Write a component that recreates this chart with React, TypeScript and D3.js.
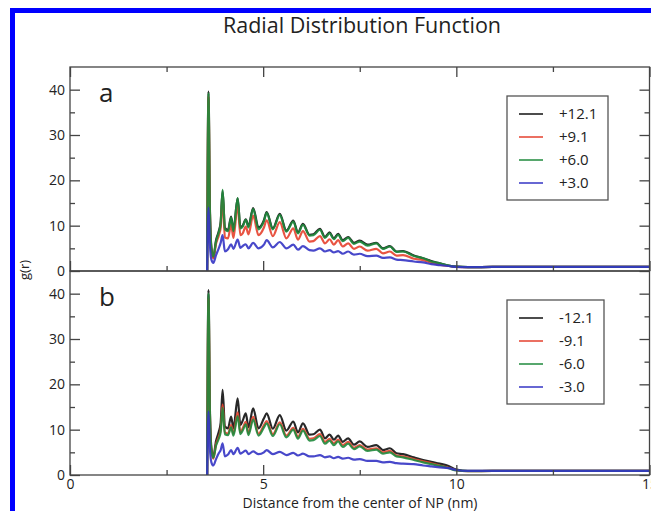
import { useEffect, useRef } from 'react';
import * as d3 from 'd3';

// Distance grid (nm) shared by every curve
const rGrid = [
  3.55, 3.585, 3.62, 3.66, 3.71, 3.78, 3.85, 3.9, 3.95, 4.01, 4.09, 4.17, 4.23, 4.34, 4.41,
  4.47, 4.55, 4.62, 4.74, 4.88, 5.02, 5.09, 5.25, 5.43, 5.6, 5.78, 5.9, 6.03, 6.2, 6.3,
  6.47, 6.6, 6.72, 6.83, 6.94, 7.06, 7.2, 7.35, 7.5, 7.7, 7.93, 8.1, 8.28, 8.45, 8.62,
  8.9, 9.14, 9.35, 9.57, 9.8, 10.0, 10.3, 11, 12, 13, 14, 15,
];

// Panel a (positive charges)
const gPos121 = [
  0, 39.6, 14.5, 5.2, 3.0, 6.8, 8.7, 10.8, 17.6, 9.5, 9.0, 12.0, 9.0, 16.0, 9.7,
  10.0, 11.4, 9.9, 13.9, 9.6, 11.2, 13.0, 9.4, 12.6, 8.9, 11.1, 8.5, 10.4, 8.0, 8.1,
  9.3, 7.5, 8.5, 7.2, 8.2, 6.8, 7.5, 6.2, 6.7, 5.8, 6.2, 5.0, 5.5, 4.3, 4.4,
  3.4, 2.8, 2.2, 1.7, 1.2, 0.95, 0.85, 0.9, 0.9, 0.9, 0.9, 0.9,
];
const gPos91 = [
  0, 38.5, 13.5, 4.6, 2.8, 6.0, 7.8, 9.5, 16.2, 7.4, 7.2, 10.3, 7.3, 14.5, 7.9,
  8.3, 9.8, 8.1, 12.2, 7.9, 9.6, 11.2, 7.7, 10.8, 7.2, 9.4, 6.9, 8.8, 6.5, 6.6,
  7.7, 6.1, 7.0, 5.8, 6.8, 5.4, 6.1, 4.9, 5.4, 4.5, 4.9, 3.9, 4.3, 3.4, 3.5,
  2.7, 2.4, 1.8, 1.4, 1.1, 0.9, 0.85, 0.9, 0.9, 0.9, 0.9, 0.9,
];
const gPos60 = [
  0, 39.2, 14.0, 5.0, 3.2, 6.5, 8.5, 10.5, 17.9, 9.2, 8.8, 11.8, 8.8, 16.1, 9.4,
  9.8, 11.3, 9.6, 13.7, 9.2, 11.0, 12.8, 9.2, 12.4, 8.7, 10.9, 8.3, 10.2, 7.8, 7.9,
  9.1, 7.3, 8.3, 7.0, 8.0, 6.6, 7.3, 6.0, 6.5, 5.6, 6.1, 4.9, 5.4, 4.2, 4.3,
  3.3, 2.8, 2.1, 1.7, 1.2, 0.95, 0.85, 0.9, 0.9, 0.9, 0.9, 0.9,
];
const gPos30 = [
  0, 14.0, 6.0, 2.5, 1.8, 3.5, 5.0, 6.2, 7.9, 4.3, 4.8, 5.9, 4.9, 6.9, 5.1,
  5.5, 5.9, 5.0, 6.2, 5.0, 5.8, 6.8, 5.2, 6.4, 5.0, 5.8, 4.7, 5.5, 4.6, 4.5,
  5.0, 4.3, 4.6, 4.1, 4.4, 3.8, 4.3, 3.6, 3.8, 3.3, 3.4, 2.9, 3.0, 2.5, 2.4,
  2.1, 1.9, 1.5, 1.3, 1.1, 0.9, 0.85, 0.9, 0.9, 0.9, 0.9, 0.9,
];

// Panel b (negative charges)
const gNeg121 = [
  0, 40.8, 15.0, 6.0, 4.0, 7.5, 9.5, 11.5, 18.8, 10.7, 10.3, 12.9, 10.3, 16.9, 11.0,
  12.0, 13.6, 10.5, 14.7, 10.3, 12.5, 13.6, 10.2, 13.2, 9.8, 11.8, 9.4, 11.4, 8.9, 9.0,
  10.0, 8.1, 8.9, 7.8, 8.7, 7.3, 8.1, 6.7, 7.4, 6.2, 6.6, 5.5, 5.9, 4.8, 4.6,
  3.9, 3.3, 2.9, 2.5, 2.0, 1.2, 0.9, 0.9, 0.9, 0.9, 0.9, 0.9,
];
const gNeg91 = [
  0, 39.0, 14.0, 5.3, 3.6, 6.8, 8.4, 10.0, 15.6, 9.4, 9.1, 11.0, 9.1, 13.8, 9.4,
  10.3, 11.7, 9.2, 12.8, 9.1, 11.0, 11.9, 9.0, 11.6, 8.7, 10.4, 8.4, 10.2, 8.0, 8.1,
  9.0, 7.3, 8.0, 7.0, 7.8, 6.6, 7.3, 6.0, 6.6, 5.6, 5.9, 5.0, 5.3, 4.3, 4.1,
  3.5, 3.0, 2.6, 2.1, 1.6, 1.05, 0.85, 0.9, 0.9, 0.9, 0.9, 0.9,
];
const gNeg60 = [
  0, 40.0, 14.5, 5.5, 3.8, 6.5, 8.0, 9.5, 14.8, 9.0, 8.8, 10.5, 8.7, 13.0, 9.0,
  9.8, 11.2, 8.8, 12.2, 8.7, 10.5, 11.4, 8.6, 11.2, 8.3, 10.0, 8.0, 9.8, 7.6, 7.7,
  8.6, 6.9, 7.6, 6.6, 7.4, 6.2, 6.9, 5.7, 6.3, 5.3, 5.6, 4.7, 5.0, 4.1, 3.9,
  3.3, 2.8, 2.4, 2.0, 1.5, 1.0, 0.85, 0.9, 0.9, 0.9, 0.9, 0.9,
];
const gNeg30 = [
  0, 14.0, 6.0, 2.8, 2.1, 3.5, 4.8, 5.5, 7.0, 4.1, 4.5, 5.5, 4.6, 6.0, 4.7,
  5.0, 5.4, 4.6, 5.2, 4.6, 5.0, 5.5, 4.6, 5.1, 4.4, 4.9, 4.3, 4.7, 4.1, 4.1,
  4.4, 3.9, 4.1, 3.7, 4.0, 3.6, 3.8, 3.4, 3.5, 3.1, 3.1, 2.8, 2.9, 2.6, 2.5,
  2.4, 2.1, 1.9, 1.7, 1.5, 1.1, 0.9, 0.9, 0.9, 0.9, 0.9, 0.9,
];

const labelsA = ['+12.1', '+9.1', '+6.0', '+3.0'];
const labelsB = ['-12.1', '-9.1', '-6.0', '-3.0'];
const colors = ['#111111', '#e5412e', '#1f8a3c', '#3434c4'];

const yMajor = [0, 10, 20, 30, 40];
const yMinor = [5, 15, 25, 35];
const xMajor = [0, 5, 10, 15];
const xMinor = [2.5, 7.5, 12.5];

const FONT = "'Open Sans', 'Liberation Sans', sans-serif";

export default function App() {
  const svgRef = useRef<SVGSVGElement>(null);

  useEffect(() => {
    const svg = d3.select(svgRef.current);
    svg.selectAll('*').remove();

    const W = 651;
    const H = 511;
    const left = 70;
    const right = 649.5;
    const topA = 67;
    const mid = 271;
    const bottomB = 475;

    svg.append('rect').attr('width', W).attr('height', H).attr('fill', 'white');

    // blue frame (cropped figure border)
    svg.append('rect').attr('x', 10).attr('y', 8).attr('width', W - 10).attr('height', 5).attr('fill', '#0000ff');
    svg.append('rect').attr('x', 10).attr('y', 8).attr('width', 5).attr('height', H - 8).attr('fill', '#0000ff');

    svg.append('text')
      .attr('x', 362).attr('y', 33)
      .attr('text-anchor', 'middle')
      .style('font-family', FONT).style('font-size', '21.5px').attr('fill', '#222')
      .text('Radial Distribution Function');

    const x = d3.scaleLinear().domain([0, 15]).range([left, right]);

    const panels = [
      { y: d3.scaleLinear().domain([0, 45]).range([mid, topA]), series: [gPos121, gPos91, gPos60, gPos30], labels: labelsA, tag: 'a', legendTop: 96, legendW: 101, topTicks: true, xLabels: false },
      { y: d3.scaleLinear().domain([0, 45]).range([bottomB, mid]), series: [gNeg121, gNeg91, gNeg60, gNeg30], labels: labelsB, tag: 'b', legendTop: 300, legendW: 97, topTicks: false, xLabels: true },
    ];

    panels.forEach(p => {
      const g = svg.append('g');
      const y0 = p.y.range()[0];
      const y1 = p.y.range()[1];

      // curves
      const line = d3.line<number>()
        .x((_, i) => x(rGrid[i]))
        .y(d => p.y(d))
        .curve(d3.curveMonotoneX);
      p.series.forEach((vals, k) => {
        g.append('path')
          .datum(vals)
          .attr('fill', 'none')
          .attr('stroke', colors[k])
          .attr('stroke-width', 2.2)
          .attr('stroke-linejoin', 'round')
          .attr('stroke-opacity', 0.9)
          .attr('d', line);
      });

      const style = (sel: any) => {
        sel.select('.domain').remove();
        sel.selectAll('line').attr('stroke', '#444').attr('stroke-width', 1.3);
        sel.selectAll('text').style('font-family', FONT).style('font-size', '14px').attr('fill', '#222');
      };

      // left axis
      g.append('g').attr('transform', `translate(${left},0)`)
        .call(d3.axisLeft(p.y).tickValues(yMajor).tickSize(-10).tickPadding(5).tickFormat(d3.format('d')))
        .call(style);
      g.append('g').attr('transform', `translate(${left},0)`)
        .call(d3.axisLeft(p.y).tickValues(yMinor).tickSize(-5).tickFormat(() => ''))
        .call(style);
      // right axis
      g.append('g').attr('transform', `translate(${right},0)`)
        .call(d3.axisRight(p.y).tickValues(yMajor).tickSize(-10).tickFormat(() => ''))
        .call(style);
      g.append('g').attr('transform', `translate(${right},0)`)
        .call(d3.axisRight(p.y).tickValues(yMinor).tickSize(-5).tickFormat(() => ''))
        .call(style);
      // bottom axis
      g.append('g').attr('transform', `translate(0,${y0})`)
        .call(d3.axisBottom(x).tickValues(xMajor).tickSize(-10).tickPadding(4)
          .tickFormat(p.xLabels ? d3.format('d') : () => ''))
        .call(style);
      g.append('g').attr('transform', `translate(0,${y0})`)
        .call(d3.axisBottom(x).tickValues(xMinor).tickSize(-5).tickFormat(() => ''))
        .call(style);
      if (p.topTicks) {
        g.append('g').attr('transform', `translate(0,${y1})`)
          .call(d3.axisTop(x).tickValues(xMajor).tickSize(-10).tickFormat(() => ''))
          .call(style);
        g.append('g').attr('transform', `translate(0,${y1})`)
          .call(d3.axisTop(x).tickValues(xMinor).tickSize(-5).tickFormat(() => ''))
          .call(style);
      }

      // frame
      g.append('rect')
        .attr('x', left).attr('y', y1)
        .attr('width', right - left).attr('height', y0 - y1)
        .attr('fill', 'none').attr('stroke', '#444').attr('stroke-width', 1.3);

      // panel tag
      g.append('text')
        .attr('x', 99).attr('y', y1 + 35)
        .style('font-family', FONT).style('font-size', '26px').attr('fill', '#222')
        .text(p.tag);

      // legend
      const lx = 507;
      const ly = p.legendTop;
      g.append('rect')
        .attr('x', lx).attr('y', ly)
        .attr('width', p.legendW).attr('height', 104)
        .attr('fill', 'white').attr('stroke', '#555').attr('stroke-width', 1.3);
      p.labels.forEach((lab, k) => {
        const cy = ly + 18 + k * 23;
        g.append('line')
          .attr('x1', lx + 12).attr('x2', lx + 36)
          .attr('y1', cy).attr('y2', cy)
          .attr('stroke', colors[k]).attr('stroke-width', 1.5);
        g.append('text')
          .attr('x', lx + 52).attr('y', cy)
          .attr('dy', '0.36em')
          .style('font-family', FONT).style('font-size', '15px').attr('fill', '#222')
          .text(lab);
      });
    });

    svg.append('text')
      .attr('transform', 'translate(29,270) rotate(-90)')
      .attr('text-anchor', 'middle')
      .style('font-family', FONT).style('font-size', '13px').attr('fill', '#222')
      .text('g(r)');

    svg.append('text')
      .attr('x', 360).attr('y', 508)
      .attr('text-anchor', 'middle')
      .style('font-family', FONT).style('font-size', '14px').attr('fill', '#222')
      .text('Distance from the center of NP (nm)');
  }, []);

  return (
    <div style={{ position: 'absolute', left: 0, top: 0 }}>
      <svg ref={svgRef} width={651} height={511} style={{ display: 'block' }} />
    </div>
  );
}
